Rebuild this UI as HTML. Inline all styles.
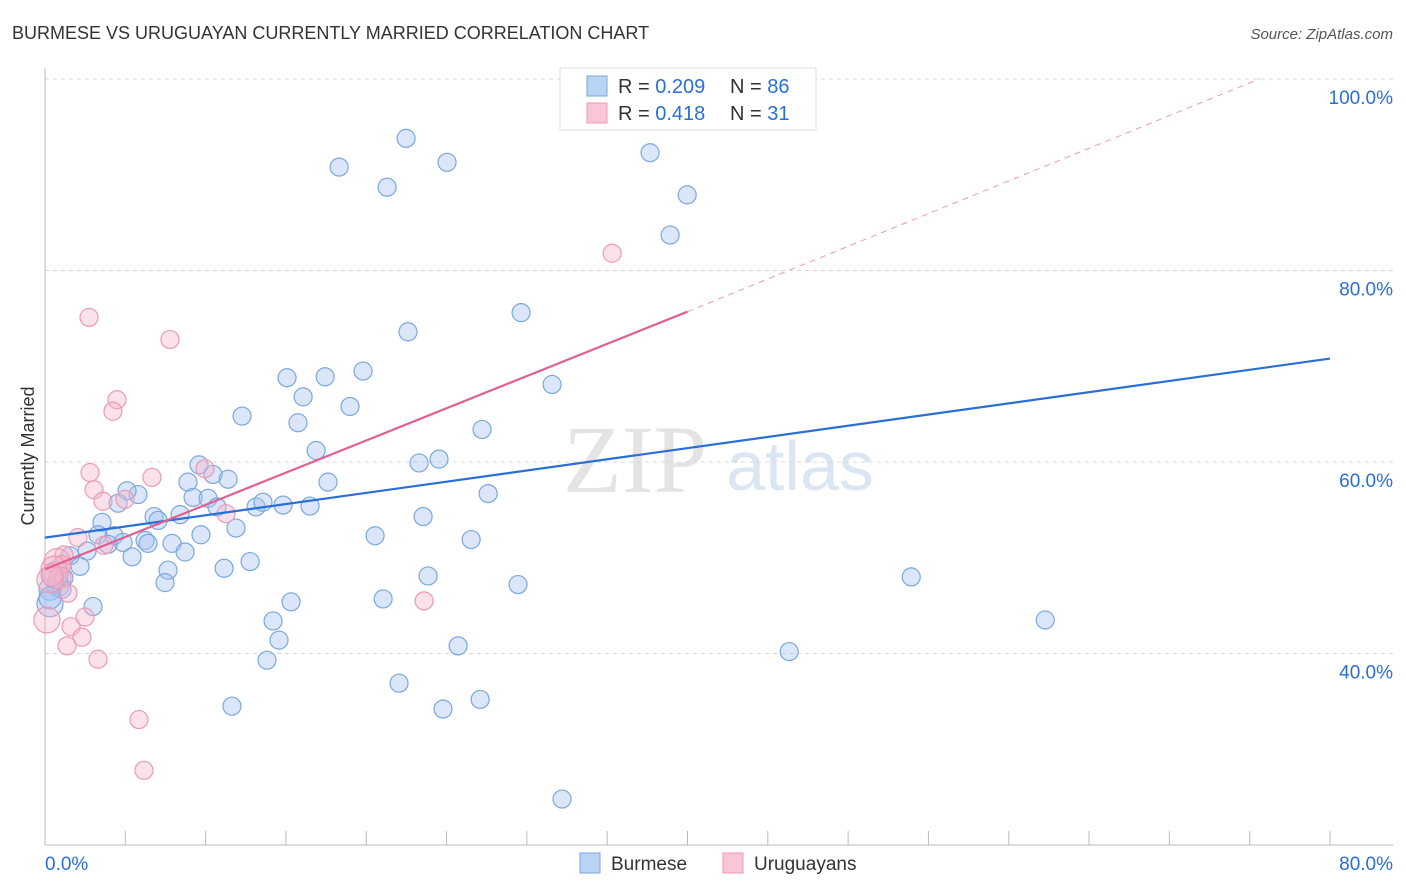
<!DOCTYPE html>
<html><head><meta charset="utf-8"><style>
body{margin:0;background:#fff;font-family:"Liberation Sans",sans-serif;}
svg{display:block}
</style></head><body>
<svg id="chart" width="1406" height="892" xmlns="http://www.w3.org/2000/svg">
<text x="12" y="39" font-size="18" fill="#333">BURMESE VS URUGUAYAN CURRENTLY MARRIED CORRELATION CHART</text>
<text x="1393" y="39" font-size="15" fill="#555" font-style="italic" text-anchor="end">Source: ZipAtlas.com</text>
<text x="0" y="0" transform="translate(34,456) rotate(-90)" font-size="18" fill="#333" text-anchor="middle">Currently Married</text>
<g>
<text x="635" y="492" font-size="96" fill="#e4e4e4" font-family="Liberation Serif,serif" text-anchor="middle">ZIP</text>
<text x="800" y="490" font-size="70" fill="#dbe6f5" text-anchor="middle">atlas</text>
</g>
<g id="grid"></g>
<g id="axes"></g>
<g id="pts"></g>
<g id="lines"></g>
<g>
<rect x="560" y="68" width="256" height="62" fill="#fff" stroke="#ddd"/>
<rect x="587" y="76" width="20" height="20" fill="#b9d3f5" stroke="#7aa7e0"/>
<rect x="587" y="103" width="20" height="20" fill="#f8c6d6" stroke="#eb9ab5"/>
<text x="618" y="93" font-size="20" fill="#333">R = <tspan fill="#2a6fd6">0.209</tspan></text>
<text x="730" y="93" font-size="20" fill="#333">N = <tspan fill="#2a6fd6">86</tspan></text>
<text x="618" y="120" font-size="20" fill="#333">R =  <tspan fill="#2a6fd6">0.418</tspan></text>
<text x="730" y="120" font-size="20" fill="#333">N =  <tspan fill="#2a6fd6">31</tspan></text>
</g>
<g>
<rect x="580" y="853" width="20" height="20" fill="#b9d3f5" stroke="#7aa7e0"/>
<text x="611" y="870" font-size="19" fill="#333">Burmese</text>
<rect x="723" y="853" width="20" height="20" fill="#f8c6d6" stroke="#eb9ab5"/>
<text x="754" y="870" font-size="19" fill="#333">Uruguayans</text>
</g>
</svg>
<script>
const yTicks=[100,80,60,40];
const yTickLabels=["100.0%","80.0%","60.0%","40.0%"];
const xTicks=[0,10,20,30,40,50,60,70,80];
const xTickMinor=[5,15,25,35,45,55,65,75];
const blueX=[22.48,25.03,18.31,21.30,37.67,39.98,38.92,29.64,22.60,31.57,15.07,17.44,19.80,16.07,18.99,12.27,15.75,27.21,16.88,24.53,23.29,9.59,10.46,11.40,8.90,17.62,27.59,9.22,10.15,5.79,5.11,4.55,13.14,13.57,14.82,16.50,10.71,8.41,6.79,7.04,3.55,23.54,11.89,3.30,4.30,6.23,4.86,6.41,7.91,3.92,9.71,20.55,26.53,2.62,8.72,5.42,12.77,1.56,2.18,11.15,7.66,7.47,23.85,29.45,53.93,1.18,0.81,1.06,0.31,0.31,2.99,15.32,21.05,14.20,14.57,25.72,13.82,46.33,62.27,22.04,11.64,24.78,27.09,32.19,0.31,0.62];
const blueY=[93.8,91.3,90.8,88.7,92.3,87.9,83.7,75.6,73.6,68.1,68.8,68.9,69.5,66.8,65.8,64.8,64.1,63.4,61.2,60.3,59.9,59.7,58.7,58.2,57.9,57.9,56.7,56.3,56.2,56.6,57.0,55.7,55.3,55.8,55.5,55.4,55.3,54.5,54.3,53.9,53.7,54.3,53.1,52.4,52.3,51.8,51.6,51.5,51.5,51.4,52.4,52.3,51.9,50.7,50.6,50.1,49.6,50.2,49.1,48.9,48.7,47.4,48.1,47.2,48.0,47.9,47.1,46.7,46.7,45.2,44.9,45.4,45.7,43.4,41.4,40.8,39.3,40.2,43.5,36.9,34.5,34.2,35.2,24.8,45.8,48.2];
const pinkX=[35.31,2.74,7.78,4.48,4.23,2.80,6.66,9.96,3.05,3.61,4.98,11.27,2.05,3.67,1.18,0.75,1.06,0.56,0.93,0.31,1.43,1.62,2.49,2.30,1.37,3.30,23.60,5.85,6.16,0.12,0.44];
const pinkY=[81.8,75.1,72.8,66.5,65.3,58.9,58.4,59.3,57.1,55.9,56.1,54.6,52.1,51.3,50.3,49.6,49.3,48.8,47.9,47.7,46.3,42.8,43.8,41.7,40.8,39.4,45.5,33.1,27.8,43.5,48.2];
const blueTrend=[52.1,70.8];
const pinkTrend=[48.8,75.7];
const pinkTrendDash=[75.7,100];
const NS="http://www.w3.org/2000/svg";
const X0=45,X1=1330,Y100=79,Y20=845;
function sx(v){return X0+(X1-X0)*v/80;}
function sy(v){return Y100+(100-v)*(Y20-Y100)/80;}
function mk(t,a,p){const e=document.createElementNS(NS,t);for(const k in a)e.setAttribute(k,a[k]);p.appendChild(e);return e;}
const grid=document.getElementById('grid'),axes=document.getElementById('axes'),pts=document.getElementById('pts'),lines=document.getElementById('lines');
yTicks.forEach((v,i)=>{
 const l=mk('line',{x1:X0,x2:1393,y1:sy(v),y2:sy(v),stroke:'#d8d8d8','stroke-dasharray':'4,4'},grid);
 
 
 const t=mk('text',{x:1393,y:sy(v)+25,'font-size':19,fill:'#2a6fd6','text-anchor':'end'},axes);
 t.textContent=yTickLabels[i];
 
 
});
const ax=mk('line',{x1:X0,x2:X0,y1:68,y2:Y20,stroke:'#bbb'},axes);


const bx=mk('line',{x1:X0,x2:1393,y1:Y20,y2:Y20,stroke:'#bbb'},axes);


xTicks.concat(xTickMinor).forEach(v=>{
 const t=mk('line',{x1:sx(v),x2:sx(v),y1:Y20,y2:Y20-14,stroke:'#bbb'},axes);
 
 
});
const xl0=mk('text',{x:45,y:870,'font-size':19,fill:'#2a6fd6'},axes);xl0.textContent='0.0%';


const xl1=mk('text',{x:1393,y:870,'font-size':19,fill:'#2a6fd6','text-anchor':'end'},axes);xl1.textContent='80.0%';


function dots(xs,ys,fill,stroke,name){
 xs.forEach((x,i)=>{
  const r=x<1?(i%2?13:11):9;
  const c=mk('circle',{cx:sx(x),cy:sy(ys[i]),r:r,fill:fill,stroke:stroke,'stroke-width':1.2},pts);
  
  
 });
}
dots(blueX,blueY,'rgba(164,196,240,0.4)','#7aa7e0','point-burmese');
dots(pinkX,pinkY,'rgba(245,180,200,0.4)','#eb9ab5','point-uruguayans');
const bl=mk('line',{x1:sx(0),y1:sy(blueTrend[0]),x2:sx(80),y2:sy(blueTrend[1]),stroke:'#2a6fd6','stroke-width':2.2},lines);


const pl=mk('line',{x1:sx(0),y1:sy(pinkTrend[0]),x2:sx(40),y2:sy(pinkTrend[1]),stroke:'#e06090','stroke-width':2.2},lines);


const pd=mk('line',{x1:sx(40),y1:sy(pinkTrendDash[0]),x2:sx(75.6),y2:sy(pinkTrendDash[1]),stroke:'#eb9ab5','stroke-width':1,'stroke-dasharray':'6,5'},lines);


</script>
</body></html>
